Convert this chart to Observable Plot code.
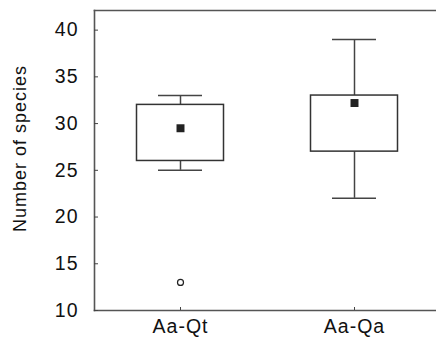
<!DOCTYPE html>
<html>
<head>
<meta charset="utf-8">
<script src="https://cdn.jsdelivr.net/npm/d3@7"></script>
<script src="https://cdn.jsdelivr.net/npm/@observablehq/plot@0.6"></script>
<style>
  html, body { margin: 0; padding: 0; background: #fff; }
  #chart svg { display: block; }
  #chart svg text { letter-spacing: 1px; }
</style>
</head>
<body>
<div id="chart"></div>
<script>
const categories = ["Aa-Qt", "Aa-Qa"];
const mins = [25, 22];
const q1s = [26, 27];
const q3s = [32, 33];
const maxs = [33, 39];
const means = [29.5, 32.2];
const outlierCats = ["Aa-Qt"];
const outlierValues = [13];
const yTicks = [10, 15, 20, 25, 30, 35, 40];
const yLabel = "Number of species";

const stats = categories.map((c, i) => ({cat: c, min: mins[i], q1: q1s[i], q3: q3s[i], max: maxs[i], mean: means[i]}));
const outliers = outlierCats.map((c, i) => ({cat: c, v: outlierValues[i]}));

const ink = "#222";
const chart = Plot.plot({
  width: 436,
  height: 338,
  marginLeft: 94,
  marginRight: 0,
  marginTop: 10,
  marginBottom: 28,
  style: {fontFamily: "'Liberation Sans', Arial, sans-serif", fontSize: "19px", color: "#111", background: "#fff"},
  x: {type: "band", domain: categories, range: [93, 441], padding: 0, label: null},
  y: {domain: [10, 42.1], label: null},
  marks: [
    Plot.frame({anchor: "left", stroke: "#555", strokeWidth: 1.6}),
    Plot.frame({anchor: "top", stroke: "#555", strokeWidth: 1.6}),
    Plot.frame({anchor: "bottom", stroke: "#555", strokeWidth: 1.6}),
    Plot.axisY({ticks: yTicks, tickSize: -4, tickPadding: 20, stroke: "#444", fontSize: 19.5, label: null}),
    Plot.axisX({tickSize: -3, tickPadding: 12, stroke: "#444", fontSize: 19.5, label: null}),
    Plot.text([yLabel], {frameAnchor: "left", textAnchor: "middle", rotate: -90, dx: -74, dy: -12, fontSize: 18, fill: "#111"}),
    Plot.ruleX(stats, {x: "cat", y1: "q3", y2: "max", stroke: "#444", strokeWidth: 1.5}),
    Plot.ruleX(stats, {x: "cat", y1: "min", y2: "q1", stroke: "#444", strokeWidth: 1.5}),
    Plot.tickY(stats, {x: "cat", y: "max", stroke: "#444", strokeWidth: 1.5, insetLeft: 65, insetRight: 65}),
    Plot.tickY(stats, {x: "cat", y: "min", stroke: "#444", strokeWidth: 1.5, insetLeft: 65, insetRight: 65}),
    Plot.barY(stats, {x: "cat", y1: "q1", y2: "q3", insetLeft: 43.5, insetRight: 43.5, fill: "#fff", stroke: "#333", strokeWidth: 1.5}),
    Plot.dot(stats, {x: "cat", y: "mean", symbol: "square", r: 4.5, fill: ink, stroke: "none"}),
    Plot.dot(outliers, {x: "cat", y: "v", r: 3, fill: "#fff", stroke: ink, strokeWidth: 1.2})
  ]
});
document.getElementById("chart").appendChild(chart);
</script>
</body>
</html>
